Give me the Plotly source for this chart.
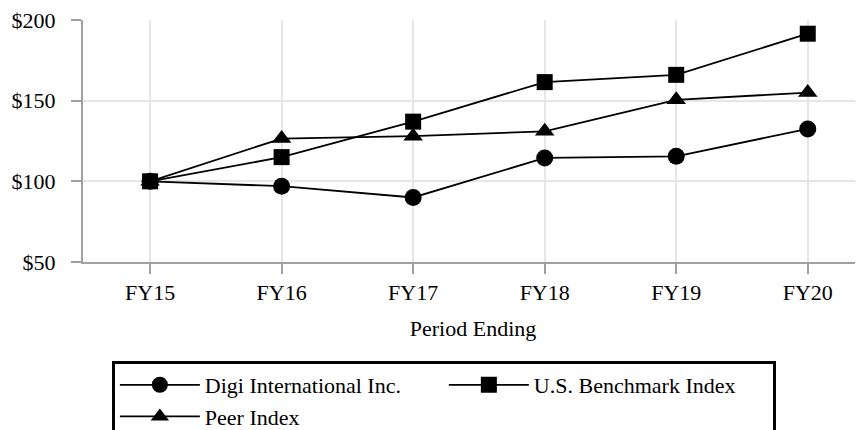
import plotly.graph_objects as go

periods = ["FY15", "FY16", "FY17", "FY18", "FY19", "FY20"]
digi = [100, 97, 90, 114.5, 115.5, 132.5]
benchmark = [100, 115, 137, 161.5, 166, 191.5]
peer = [100, 126.5, 128, 131, 150.5, 155]
y_ticks = [50, 100, 150, 200]
y_tick_text = ["$50", "$100", "$150", "$200"]

FONT = "Liberation Serif, Times New Roman, serif"

fig = go.Figure()
fig.add_trace(go.Scatter(x=periods, y=digi, name="Digi International Inc.", mode="lines+markers",
                         line=dict(color="black", width=1.8),
                         marker=dict(symbol="circle", size=17, color="black")))
fig.add_trace(go.Scatter(x=periods, y=benchmark, name="U.S. Benchmark Index", mode="lines+markers",
                         line=dict(color="black", width=1.8),
                         marker=dict(symbol="square", size=16, color="black")))
fig.add_trace(go.Scatter(x=periods, y=peer, name="Peer Index", mode="lines+markers",
                         line=dict(color="black", width=1.8),
                         marker=dict(symbol="triangle-up", size=17, color="black")))

# page body has an 8px default margin, so the figure is 8px smaller than the window
fig.update_layout(
    width=855, height=422,
    margin=dict(l=75, r=0, t=12, b=168, autoexpand=False),
    plot_bgcolor="white", paper_bgcolor="white",
    font=dict(family=FONT, size=22, color="black"),
    showlegend=True,
    legend=dict(
        orientation="h", x=0.037, xanchor="left", y=-0.409, yanchor="top",
        bordercolor="black", borderwidth=3, bgcolor="white",
        font=dict(family=FONT, size=22, color="black"),
        entrywidth=234, entrywidthmode="pixels", itemwidth=80,
        traceorder="normal",
    ),
)
fig.update_xaxes(
    type="category", range=[-0.51, 5.42],
    showgrid=True, gridcolor="#e6e6e6", gridwidth=1.5,
    showline=True, linecolor="#a0a0a0", linewidth=2,
    ticks="outside", ticklen=10, tickcolor="#a0a0a0", tickwidth=1.5,
    ticklabelstandoff=0, ticklabeloverflow="allow",
    title=dict(text="Period Ending", standoff=16, font=dict(family=FONT, size=22)),
)
fig.update_yaxes(
    range=[50, 200], tickvals=y_ticks, ticktext=y_tick_text,
    showgrid=True, gridcolor="#e6e6e6", gridwidth=1.5, zeroline=False,
    showline=True, linecolor="#a0a0a0", linewidth=2,
    ticks="outside", ticklen=10, tickcolor="#a0a0a0", tickwidth=1.5,
    ticklabelstandoff=11, ticklabeloverflow="allow",
)

fig.write_html("out.html")
